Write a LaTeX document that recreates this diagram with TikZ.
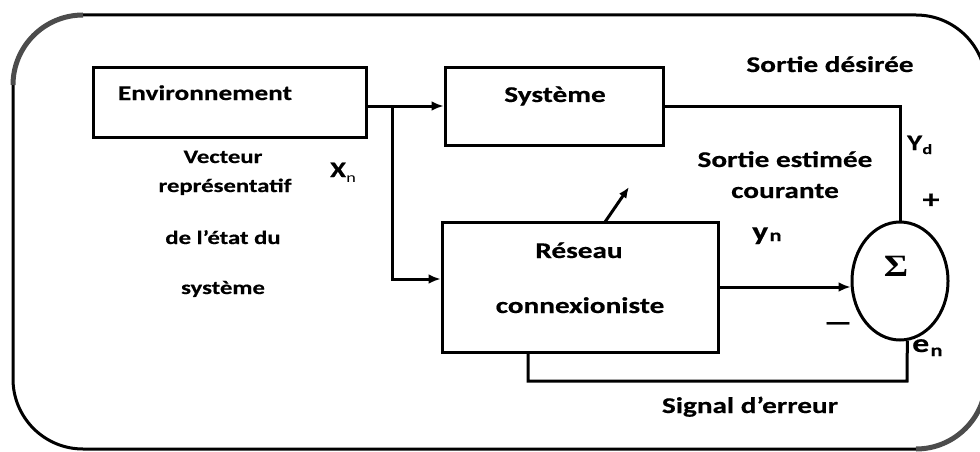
\documentclass[tikz,border=0pt]{standalone}
\usepackage{fontspec}
\setmainfont[FakeStretch=1.3,BoldFeatures={FakeBold=0.5}]{Carlito}
\newfontfamily\sigmafont[FakeStretch=1.2]{Liberation Serif}
\usetikzlibrary{arrows.meta,shapes.geometric}

\begin{document}
\begin{tikzpicture}[x=1pt,y=-1pt,
  block/.style={draw,line width=3pt,inner sep=0pt},
  link/.style={line width=3pt},
  arr/.style={link,-{Latex[length=12pt,width=10pt]}},
  lbl/.style={font=\bfseries\fontsize{22.5}{26}\selectfont,inner sep=0pt,anchor=base},
  side/.style={font=\bfseries\fontsize{19}{22}\selectfont,inner sep=0pt,anchor=base},
  sym/.style={font=\bfseries\fontsize{26}{30}\selectfont,inner sep=0pt,anchor=base west},
  subs/.style={font=\bfseries\fontsize{14}{16}\selectfont,inner sep=0pt}]
\useasboundingbox (0,0) rectangle (980,452);

% outer frame; the top-left and bottom-right corners are drawn heavier
\draw[line width=3pt,rounded corners=70pt] (13,15) rectangle (986,449);
\draw[line width=5pt,black!70] (13,85) arc[start angle=180,end angle=90,radius=70pt];
\draw[line width=5pt,black!70] (986,379) arc[start angle=0,end angle=-90,radius=70pt];

% blocks
\node[block,minimum width=273pt,minimum height=69pt] (env) at (229.5,102.5) {};
\node[block,minimum width=218pt,minimum height=77pt] (sys) at (554,106.5) {};
\node[block,minimum width=276pt,minimum height=130pt] (res) at (580,287) {};
\node[ellipse,draw,line width=3pt,minimum width=96pt,minimum height=118pt,inner sep=0pt] (sum) at (900,281) {};

% block texts
\node[lbl,font=\bfseries\fontsize{21}{25}\selectfont] (tEnv) at (205,100) {Environnement};
\node[lbl] (tSys) at (555,102) {Système};
\node[lbl] (tRes1) at (579,258) {Réseau};
\node[lbl] (tRes2) at (580,313) {connexioniste};
\node[font=\sigmafont\bfseries\fontsize{31}{34}\selectfont,inner sep=0pt] (tSig) at (896,266) {Σ};

% connectors
\coordinate (br) at (392,106);
\coordinate (rinY) at (0,279);
\draw[arr] (env.east |- br) -- (sys.west |- br);
\draw[arr] (br) |- (res.west |- rinY);
\draw[link] (sys.east) -| (sum.north);
\draw[arr] (res.east) -- (res.east -| sum.west);
\coordinate (errR) at (907,381);
\coordinate (errL) at (528,381);
\draw[link] (sum.-83) -- (errR) -- (errL) -- (errL |- res.south);
\coordinate (adjA) at (605,222);
\coordinate (adjB) at (629,187);
\draw[link,-{Latex[length=11pt,width=9pt]}] (adjA) -- (adjB);

% labels
\node[lbl] (tDes) at (830,72) {Sortie désirée};
\node[lbl] (tEst1) at (785,167) {Sortie estimée};
\node[lbl] (tEst2) at (785,198) {courante};
\node[lbl] (tErr) at (750,413) {Signal d’erreur};
\node[side] (tV1) at (223,163) {Vecteur};
\node[side] (tV2) at (225,192) {représentatif};
\node[side] (tV3) at (223,244) {de l’état du};
\node[side] (tV4) at (223,294) {système};

\node[sym,font=\bfseries\fontsize{22}{26}\selectfont] (xn) at (330,177) {X};
\node[subs,anchor=base west,font=\fontsize{14}{16}\selectfont] at ([xshift=0pt,yshift=-5pt]xn.base east) {n};
\node[sym,font=\bfseries\fontsize{22}{26}\selectfont] (yd) at (907,150) {Y};
\node[subs,anchor=base west] at ([yshift=-4pt]yd.base east) {d};
\node[sym] (yn) at (752,240) {y};
\node[subs,anchor=base west,font=\bfseries\fontsize{17}{19}\selectfont] at ([xshift=1pt,yshift=-1pt]yn.base east) {n};
\node[sym] (en) at (912,352) {e};
\node[subs,anchor=base west,font=\bfseries\fontsize{17}{19}\selectfont] at ([xshift=1pt,yshift=-4pt]en.base east) {n};
\node[lbl,font=\bfseries\fontsize{26}{30}\selectfont] (plus) at (931,208) {+};
\node[lbl,font=\bfseries\fontsize{24}{28}\selectfont] (minus) at (838,330) {—};
\end{tikzpicture}
\end{document}
